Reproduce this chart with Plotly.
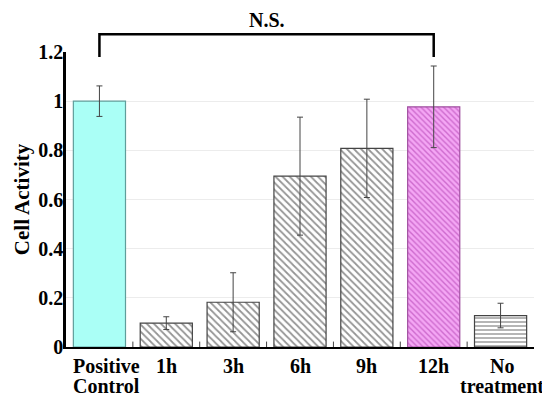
import plotly.graph_objects as go

categories = ["Positive<br>Control", "1h", "3h", "6h", "9h", "12h", "No<br>treatment"]
values = [1.0, 0.097, 0.182, 0.695, 0.808, 0.977, 0.128]
errors = [0.062, 0.026, 0.12, 0.24, 0.2, 0.166, 0.05]
y_ticks = [0, 0.2, 0.4, 0.6, 0.8, 1, 1.2]
y_tick_labels = ["0", "0.2", "0.4", "0.6", "0.8", "1", "1.2"]
bracket_from, bracket_to = 0, 5
bracket_label = "N.S."

fill_colors = ["#aafff6", "white", "white", "white", "white", "#f4a6f4", "white"]
line_colors = ["#5f9e9b", "#444444", "#444444", "#444444", "#444444", "#a050a0", "#444444"]
pattern_shapes = ["", "\\", "\\", "\\", "\\", "\\", "-"]
pattern_fg = ["#aafff6", "#2a2a2a", "#2a2a2a", "#2a2a2a", "#2a2a2a", "#a830a8", "#2a2a2a"]
pattern_size = [5, 5, 5, 5, 5, 4, 4]
label_xshift = [7, 0, 0, 0, 0, 0, 1]

FONT = "Liberation Serif"
Y_MAX = 1.2

fig = go.Figure()
for i, cat in enumerate(categories):
    pat = dict(shape=pattern_shapes[i], fgcolor=pattern_fg[i], bgcolor=fill_colors[i],
               size=pattern_size[i], solidity=0.35, fillmode="overlay")
    fig.add_trace(go.Bar(
        x=[i], y=[values[i]],
        error_y=dict(type="data", array=[errors[i]], color="#444444", thickness=1, width=3),
        marker=dict(color=fill_colors[i], line=dict(color=line_colors[i], width=1.2), pattern=pat),
        width=0.78, name=cat.replace("<br>", " "),
    ))

# significance bracket (paper y so it is not clipped)
y_bar = 1.272
y_leg = 1.18
fig.add_shape(type="path",
              path=f"M {bracket_from},{y_leg / Y_MAX} L {bracket_from},{y_bar / Y_MAX} L {bracket_to},{y_bar / Y_MAX} L {bracket_to},{y_leg / Y_MAX}",
              line=dict(color="black", width=2.5), xref="x", yref="paper", layer="above")
fig.add_annotation(x=(bracket_from + bracket_to) / 2, y=y_bar / Y_MAX, yref="paper", xref="x",
                   text="<b>" + bracket_label + "</b>", showarrow=False, yanchor="bottom", yshift=1,
                   font=dict(family=FONT, size=20, color="black"))

# category labels (tight line spacing as in the reference)
for i, cat in enumerate(categories):
    for k, line in enumerate(cat.split("<br>")):
        fig.add_annotation(x=i, xref="x", y=0, yref="paper", yanchor="middle", yshift=-19 - 20 * k,
                           xshift=label_xshift[i],
                           text="<b>" + line + "</b>", showarrow=False,
                           font=dict(family=FONT, size=20, color="black"))

# the page body adds an 8px offset, so the figure is 8px smaller with 8px smaller left/top margins
fig.update_layout(
    width=542, height=389,
    margin=dict(l=58, r=16, t=44, b=50, autoexpand=False),
    plot_bgcolor="white", paper_bgcolor="white",
    showlegend=False, barmode="overlay",
    font=dict(family=FONT, color="black"),
    xaxis=dict(
        range=[-0.5, 6.5],
        showticklabels=False,
        showline=True, linecolor="black", linewidth=2,
        showgrid=False, zeroline=False,
        ticks="", fixedrange=True, automargin=False,
    ),
    yaxis=dict(
        range=[0, Y_MAX],
        tickmode="array",
        tickvals=y_ticks,
        ticktext=["<b>" + t + "</b>" for t in y_tick_labels],
        tickfont=dict(family=FONT, size=20, color="black"),
        ticklabelstandoff=-4,
        showline=True, linecolor="black", linewidth=2.5,
        showgrid=True, gridcolor="#ececec", gridwidth=1,
        zeroline=False, ticks="", automargin=False,
        title=dict(text="<b>Cell Activity</b>", font=dict(family=FONT, size=21, color="black"), standoff=3),
    ),
)

# small inside ticks at category boundaries
for i in range(len(categories) - 1):
    fig.add_shape(type="line", x0=i + 0.5, x1=i + 0.5, y0=0, y1=0.022, xref="x", yref="y",
                  line=dict(color="#444444", width=1))

fig.write_html("out.html")
